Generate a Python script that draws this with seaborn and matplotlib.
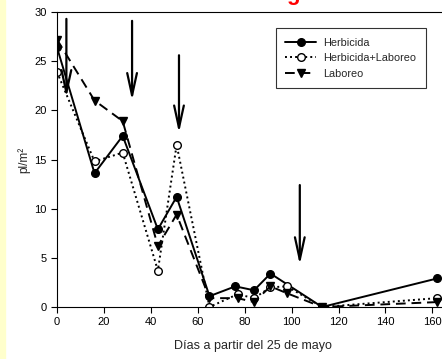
import numpy as np
import pandas as pd
import matplotlib
matplotlib.use("Agg")
import matplotlib.pyplot as plt
import seaborn as sns

# ==============================
# DATA
# ==============================
herb_days = [0, 16, 28, 43, 51, 65, 76, 84, 91, 113, 162]
herb_vals = [26.4, 13.6, 17.4, 7.9, 11.2, 1.1, 2.1, 1.7, 3.4, 0.0, 2.9]

herblab_days = [0, 16, 28, 43, 51, 65, 77, 84, 91, 98, 113, 162]
herblab_vals = [23.9, 14.8, 15.7, 3.7, 16.5, 0.0, 1.3, 0.9, 2.0, 2.1, 0.0, 0.9]

lab_days = [0, 16, 28, 43, 51, 65, 77, 84, 91, 98, 113, 162]
lab_vals = [27.2, 21.0, 18.9, 6.2, 9.4, 0.9, 0.9, 0.5, 2.1, 1.4, 0.0, 0.5]

# arrows: day, start value, tip value
arrow_days = [4, 32, 52, 103.5]
arrow_top = [29.3, 29.1, 25.6, 12.4]
arrow_tip = [21.3, 21.0, 17.7, 4.3]

x_ticks = [0, 20, 40, 60, 80, 100, 120, 140, 160]
y_ticks = [0, 5, 10, 15, 20, 25, 30]

# ==============================
# STYLE
# ==============================
sns.set_style("ticks")
plt.rcParams["font.family"] = ["Liberation Sans", "DejaVu Sans"]

fig = plt.figure(figsize=(4.42, 3.59), dpi=100)
ax = fig.add_axes([57 / 442, 52 / 359, 1 - 57 / 442 + 0.01, 295 / 359])

# pale yellow strip on the left edge
fig.patches.append(plt.Rectangle((0, 0), 5 / 442, 1, transform=fig.transFigure,
                                 color="#ffffcc", zorder=0))

series = [
    ("Herbicida", herb_days, herb_vals,
     dict(linestyle="-", marker="o", markerfacecolor="black", markersize=5.5)),
    ("Herbicida+Laboreo", herblab_days, herblab_vals,
     dict(linestyle=(0, (1, 1.6)), marker="o", markerfacecolor="white", markersize=5.5)),
    ("Laboreo", lab_days, lab_vals,
     dict(linestyle=(0, (5, 3)), marker="v", markerfacecolor="black", markersize=6)),
]

for name, days, vals, kw in series:
    df = pd.DataFrame({"dia": days, "pl": vals})
    sns.lineplot(data=df, x="dia", y="pl", ax=ax, color="black", lw=1.4,
                 markeredgecolor="black", markeredgewidth=1,
                 label=name, **kw)

for d, top, tip in zip(arrow_days, arrow_top, arrow_tip):
    ax.annotate("", xy=(d, tip), xytext=(d, top),
                arrowprops=dict(arrowstyle="->, head_length=1.6, head_width=0.35",
                                lw=1.6, color="black", mutation_scale=10,
                                shrinkA=0, shrinkB=0))

ax.set_xlim(0, 166)
ax.set_ylim(0, 30)
ax.set_xticks(x_ticks)
ax.set_yticks(y_ticks)
ax.tick_params(direction="out", length=4, width=0.8, labelsize=8, colors="black")
for s in ["left", "bottom", "top"]:
    ax.spines[s].set_linewidth(0.8)
    ax.spines[s].set_color("black")
ax.spines["right"].set_visible(False)

ax.set_xlabel("Días a partir del 25 de mayo", fontsize=9, va="top")
ax.xaxis.set_label_coords(0.5026, -0.112)
ax.set_ylabel("pl/m²", fontsize=8.5)
ax.yaxis.set_label_coords(-0.068, 0.5)

leg = ax.legend(loc="upper right", bbox_to_anchor=(426 / 442, 1 - 28 / 359),
                bbox_transform=fig.transFigure, fontsize=7.8, frameon=True,
                fancybox=False, handlelength=2.8, borderpad=0.9,
                labelspacing=0.5, handletextpad=0.7, borderaxespad=0)
leg.get_frame().set_edgecolor("black")
leg.get_frame().set_linewidth(0.8)

# clipped red title at the very top
fig.text(293 / 442, 1.0, "g", color="red", fontsize=16, fontweight="bold",
         ha="center", va="baseline")

fig.savefig("out.png", dpi=100)
